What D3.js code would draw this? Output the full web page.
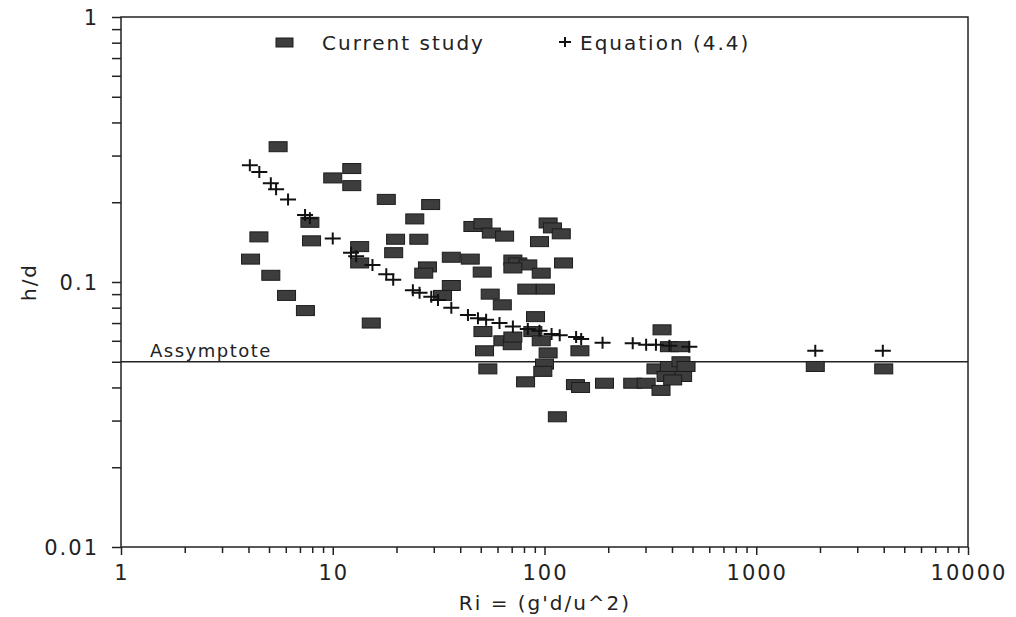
<!DOCTYPE html>
<html>
<head>
<meta charset="utf-8">
<script src="https://cdn.jsdelivr.net/npm/d3@7"></script>
<style>
  html, body { margin: 0; padding: 0; background: #fff; }
  svg text { font-family: "DejaVu Sans", sans-serif; fill: #222; }
</style>
</head>
<body>
<svg id="chart"></svg>
<script>
// Current study (Ri, h/d)
var studyRi = [5.52, 4.48, 4.09, 5.10, 6.05, 7.43, 7.8, 7.94, 10.0, 12.3, 12.3, 13.4, 13.4, 15.2, 17.9, 19.8,
  19.4, 24.4, 25.5, 29.0, 28.0, 26.9, 36.3, 44.6, 50.8, 36.3, 33.0, 45.9, 51.2, 56.1, 64.8, 104, 109, 120,
  94.7, 70.9, 74.8, 83.4, 96.5, 70.9, 123, 82.5, 101, 55.4, 63.2, 90.7, 51.2, 63.6, 70.4, 70.9, 88.1, 96.5,
  104, 100, 98.2, 52.1, 54, 81.4, 147, 140, 148, 115, 192, 261, 302, 355, 359, 389, 438, 336, 389, 441, 466,
  449, 375, 403, 1900, 4000];
var studyHd = [0.324, 0.148, 0.122, 0.106, 0.089, 0.078, 0.168, 0.143, 0.247, 0.268, 0.231, 0.136, 0.118, 0.070, 0.205, 0.145,
  0.129, 0.173, 0.145, 0.196, 0.114, 0.108, 0.124, 0.122, 0.109, 0.097, 0.089, 0.162, 0.166, 0.153, 0.149, 0.167, 0.160, 0.152,
  0.142, 0.121, 0.118, 0.116, 0.108, 0.113, 0.118, 0.094, 0.094, 0.090, 0.082, 0.074, 0.065, 0.060, 0.058, 0.062, 0.065, 0.060,
  0.054, 0.049, 0.046, 0.055, 0.047, 0.042, 0.055, 0.041, 0.040, 0.031, 0.0415, 0.0415, 0.0415, 0.039, 0.066, 0.057, 0.057, 0.047, 0.048, 0.050, 0.048,
  0.044, 0.044, 0.0427, 0.048, 0.047];

// Equation (4.4) (Ri, h/d)
var eqRi = [4.06, 4.5, 5.1, 5.4, 6.15, 7.4, 7.8, 10, 12.2, 12.9, 15.4, 17.9, 19.3, 23.9, 25.7, 29.2, 31.4, 36.3,
  43.5, 48.5, 53, 61.3, 70.9, 83.4, 94.7, 108, 118, 141, 149, 188, 261, 302, 336, 389, 483, 1900, 3960];
var eqHd = [0.276, 0.26, 0.236, 0.224, 0.205, 0.179, 0.174, 0.146, 0.129, 0.125, 0.116, 0.107, 0.102, 0.093, 0.091, 0.088, 0.0855, 0.080,
  0.075, 0.073, 0.072, 0.070, 0.068, 0.0665, 0.0655, 0.0637, 0.063, 0.062, 0.061, 0.059, 0.0587, 0.058, 0.058, 0.0575, 0.057, 0.055, 0.055];

var asymptote = 0.05;
var xDomain = [1, 10000];
var yDomain = [0.01, 1];
var xTickLabels = ['1', '10', '100', '1000', '10000'];
var yTickLabels = ['0.01', '0.1', '1'];

var width = 1016, height = 617;
var plotL = 121, plotR = 968, plotT = 17, plotB = 547;

var svg = d3.select('#chart').attr('width', width).attr('height', height);

var x = d3.scaleLog().domain(xDomain).range([plotL, plotR]);
var y = d3.scaleLog().domain(yDomain).range([plotB, plotT]);

function isDecade(v){ return Math.abs(Math.log10(v) - Math.round(Math.log10(v))) < 1e-9; }

// frame
svg.append('rect')
  .attr('x', plotL).attr('y', plotT)
  .attr('width', plotR - plotL).attr('height', plotB - plotT)
  .attr('fill', 'none').attr('stroke', '#222').attr('stroke-width', 1.5);

// x axis ticks (outward, below)
var xAxis = d3.axisBottom(x).tickValues(x.ticks()).tickSize(6).tickFormat('');
var gx = svg.append('g').attr('transform', 'translate(0,' + plotB + ')').call(xAxis);
gx.select('.domain').remove();
gx.selectAll('.tick line').attr('stroke', '#222').attr('stroke-width', 1.5)
  .attr('y2', function(d){ return isDecade(d) ? 8 : 6; });

svg.append('g').selectAll('text')
  .data(xTickLabels)
  .enter().append('text')
    .attr('x', function(d){ return x(+d) + 1; })
    .attr('y', 580)
    .attr('text-anchor', 'middle')
    .attr('font-size', 21)
    .attr('letter-spacing', 2)
    .text(function(d){ return d; });

// y axis ticks (outward, left)
var yAxis = d3.axisLeft(y).tickValues(y.ticks()).tickSize(9).tickFormat('');
var gy = svg.append('g').attr('transform', 'translate(' + plotL + ',0)').call(yAxis);
gy.select('.domain').remove();
gy.selectAll('.tick line').attr('stroke', '#222').attr('stroke-width', 1.5);

svg.append('g').selectAll('text')
  .data(yTickLabels)
  .enter().append('text')
    .attr('x', 99)
    .attr('y', function(d){ return y(+d) + 8; })
    .attr('text-anchor', 'end')
    .attr('font-size', 21)
    .attr('letter-spacing', 2)
    .text(function(d){ return d; });

// axis titles
svg.append('text')
  .attr('transform', 'translate(36,' + y(0.1) + ') rotate(-90)')
  .attr('text-anchor', 'middle')
  .attr('font-size', 20)
  .attr('letter-spacing', 2)
  .text('h/d');

svg.append('text')
  .attr('x', 545).attr('y', 610)
  .attr('text-anchor', 'middle')
  .attr('font-size', 20)
  .attr('letter-spacing', 2)
  .text("Ri = (g'd/u^2)");

// asymptote
svg.append('line')
  .attr('x1', x(xDomain[0])).attr('x2', x(xDomain[1]))
  .attr('y1', y(asymptote)).attr('y2', y(asymptote))
  .attr('stroke', '#222').attr('stroke-width', 1.5);

svg.append('text')
  .attr('x', 150).attr('y', y(asymptote) - 5)
  .attr('font-size', 18)
  .attr('letter-spacing', 1.5)
  .text('Assymptote');

// current study markers
var study = studyRi.map(function(r, i){ return [r, studyHd[i]]; });
svg.append('g').selectAll('rect')
  .data(study)
  .enter().append('rect')
    .attr('x', function(d){ return x(d[0]) - 9; })
    .attr('y', function(d){ return y(d[1]) - 5; })
    .attr('width', 18).attr('height', 10)
    .attr('fill', '#3d3d3d').attr('stroke', '#1c1c1c').attr('stroke-width', 1);

// equation markers
var eq = eqRi.map(function(r, i){ return [r, eqHd[i]]; });
function plusPath(cx, cy, hw, hh){
  return 'M' + (cx - hw) + ',' + cy + 'H' + (cx + hw) + 'M' + cx + ',' + (cy - hh) + 'V' + (cy + hh);
}
svg.append('g').selectAll('path')
  .data(eq)
  .enter().append('path')
    .attr('d', function(d){ return plusPath(x(d[0]), y(d[1]), 8, 6); })
    .attr('stroke', '#111').attr('stroke-width', 2).attr('fill', 'none');

// legend
var legend = svg.append('g');
legend.append('rect')
  .attr('x', 276).attr('y', 38).attr('width', 17).attr('height', 9)
  .attr('fill', '#3d3d3d').attr('stroke', '#1c1c1c');
legend.append('text')
  .attr('x', 322).attr('y', 50)
  .attr('font-size', 20).attr('letter-spacing', 2)
  .text('Current study');
legend.append('path')
  .attr('d', plusPath(565, 42, 6, 5))
  .attr('stroke', '#111').attr('stroke-width', 2);
legend.append('text')
  .attr('x', 580).attr('y', 50)
  .attr('font-size', 20).attr('letter-spacing', 2)
  .text('Equation (4.4)');
</script>
</body>
</html>
